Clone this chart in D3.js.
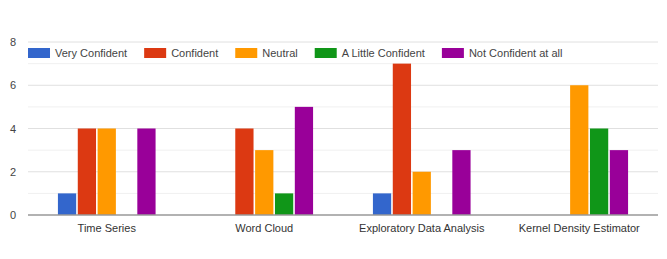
<!DOCTYPE html>
<html><head><meta charset="utf-8">
<script src="https://cdn.jsdelivr.net/npm/d3@7"></script>
<style>body{margin:0;background:#fff}svg{display:block}text{font-family:Arial,"Liberation Sans",sans-serif}</style>
</head><body><svg id="c" width="667" height="259"></svg>
<script>
const categories = ["Time Series","Word Cloud","Exploratory Data Analysis","Kernel Density Estimator"];
const seriesNames = ["Very Confident","Confident","Neutral","A Little Confident","Not Confident at all"];
const veryConfident = [1,0,1,0];
const confident = [4,4,7,0];
const neutral = [4,3,2,6];
const littleConfident = [0,1,0,4];
const notConfident = [4,5,3,3];
const yTicks = [0,2,4,6,8];
const colors = ["#3366cc","#dc3912","#ff9900","#109618","#990099"];
const series = [veryConfident, confident, neutral, littleConfident, notConfident];

(function(){
const svg = d3.select("#c");
const pL = 28, pR = 658, pT = 42, pB = 215;
const x = d3.scaleBand().domain(categories).range([pL, pR]).paddingInner(0.38).paddingOuter(0.19);
const xs = d3.scaleBand().domain(seriesNames).range([0, x.bandwidth()]).paddingInner(0.08);
const y = d3.scaleLinear().domain([0,8]).range([pB, pT]);

svg.append("g").selectAll("line").data(d3.range(1,8,2)).join("line")
  .attr("x1",pL).attr("x2",pR).attr("y1",d=>y(d)).attr("y2",d=>y(d))
  .attr("stroke","#f0f0f0").attr("stroke-width",1);
svg.append("g").selectAll("line").data(yTicks.slice(1)).join("line")
  .attr("x1",pL).attr("x2",pR).attr("y1",d=>y(d)).attr("y2",d=>y(d))
  .attr("stroke","#e0e0e0").attr("stroke-width",1);

svg.append("g").selectAll("text").data(yTicks).join("text")
  .attr("x",16).attr("y",d=>y(d)+4).attr("text-anchor","end")
  .attr("font-size",11).attr("fill","#444").text(d=>d);

const g = svg.append("g");
series.forEach((vals, si) => {
  g.append("g").selectAll("rect").data(vals.map((v,i)=>({v,c:categories[i]}))).join("rect")
    .attr("x", d=>x(d.c)+xs(seriesNames[si]))
    .attr("width", xs.bandwidth())
    .attr("y", d=>y(d.v))
    .attr("height", d=>y(0)-y(d.v))
    .attr("fill", colors[si]);
});

svg.append("line").attr("x1",pL).attr("x2",pR).attr("y1",y(0)).attr("y2",y(0))
  .attr("stroke","#999").attr("stroke-width",1.5);

svg.append("g").selectAll("text").data(categories).join("text")
  .attr("x",d=>x(d)+x.bandwidth()/2).attr("y",232).attr("text-anchor","middle")
  .attr("font-size",11).attr("fill","#333").text(d=>d);

const lg = svg.append("g");
let lx = 28;
seriesNames.forEach((n,i)=>{
  lg.append("rect").attr("x",lx).attr("y",48).attr("width",22).attr("height",10).attr("fill",colors[i]);
  const t = lg.append("text").attr("x",lx+27).attr("y",57).attr("font-size",11).attr("fill","#444").text(n);
  lx += 27 + t.node().getComputedTextLength() + 17;
});
})();
</script></body></html>
